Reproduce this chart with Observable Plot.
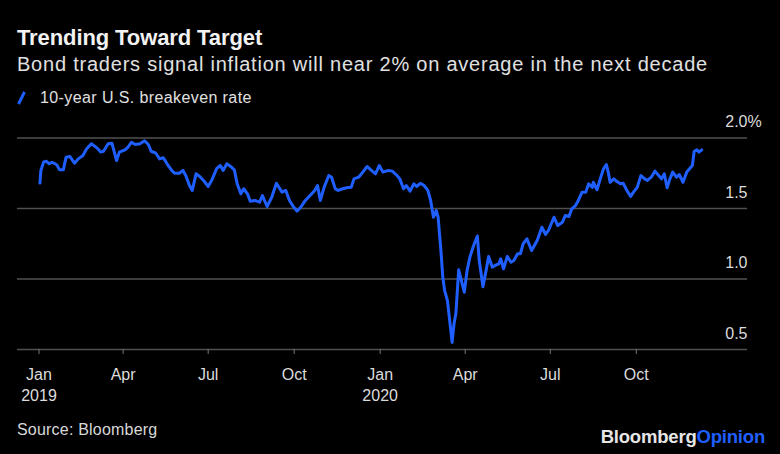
<!DOCTYPE html>
<html>
<head>
<meta charset="utf-8">
<script src="https://cdn.jsdelivr.net/npm/d3@7"></script>
<script src="https://cdn.jsdelivr.net/npm/@observablehq/plot@0.6"></script>
<style>
  html, body { margin: 0; padding: 0; background: #000; }
  body { width: 780px; height: 454px; position: relative; overflow: hidden;
         font-family: "Liberation Sans", Arial, sans-serif; color: #e0e0e0; }
  .abs { position: absolute; white-space: nowrap; }
  #title { left: 17px; top: 25px; font-size: 22px; font-weight: bold; color: #f2f2f2; letter-spacing: -0.1px; }
  #subtitle { left: 17px; top: 53px; font-size: 20px; color: #e0e0e0; letter-spacing: 0.78px; }
  #legend { left: 17px; top: 89px; font-size: 16px; color: #e0e0e0; display: flex; align-items: center; letter-spacing: 0.4px; }
  #legend svg { margin-right: 14px; }
  #chart { position: absolute; left: 0; top: 110px; }
  #source { left: 17px; top: 421px; font-size: 16px; color: #d8d8d8; letter-spacing: 0.2px; }
  #brand { right: 15px; top: 426px; font-size: 18.5px; font-weight: bold; color: #e6e6e6; letter-spacing: -0.2px; }
  #brand span { color: #1f5fff; }
</style>
</head>
<body>
<div id="title" class="abs">Trending Toward Target</div>
<div id="subtitle" class="abs">Bond traders signal inflation will near 2% on average in the next decade</div>
<div id="legend" class="abs"><svg width="9" height="14"><line x1="1.5" y1="13" x2="7.5" y2="1" stroke="#1f5fff" stroke-width="3"/></svg>10-year U.S. breakeven rate</div>
<div id="chart"></div>
<div id="source" class="abs">Source: Bloomberg</div>
<div id="brand" class="abs">Bloomberg<span>Opinion</span></div>
<script>
// 10-year U.S. breakeven rate (%)
const dates = [
  "2019-01-02","2019-01-03","2019-01-06","2019-01-09","2019-01-12","2019-01-15","2019-01-20","2019-01-23","2019-01-27","2019-01-30",
  "2019-02-03","2019-02-08","2019-02-12","2019-02-17","2019-02-21","2019-02-26","2019-03-04","2019-03-08","2019-03-11","2019-03-16",
  "2019-03-20","2019-03-25","2019-03-28","2019-04-03","2019-04-06","2019-04-10","2019-04-14","2019-04-19","2019-04-24","2019-04-28",
  "2019-05-01","2019-05-06","2019-05-10","2019-05-14","2019-05-18","2019-05-23","2019-05-26","2019-05-31","2019-06-04","2019-06-07",
  "2019-06-11","2019-06-14","2019-06-18","2019-06-22","2019-06-26","2019-07-01","2019-07-05","2019-07-10","2019-07-14","2019-07-17",
  "2019-07-21","2019-07-25","2019-07-29","2019-08-01","2019-08-05","2019-08-08","2019-08-12","2019-08-15","2019-08-20","2019-08-25",
  "2019-08-28","2019-09-02","2019-09-07","2019-09-12","2019-09-18","2019-09-22","2019-09-26","2019-09-30","2019-10-04","2019-10-08",
  "2019-10-13","2019-10-18","2019-10-23","2019-10-26","2019-10-29","2019-11-02","2019-11-07","2019-11-10","2019-11-14","2019-11-17",
  "2019-11-22","2019-11-26","2019-12-01","2019-12-04","2019-12-09","2019-12-12","2019-12-18","2019-12-22","2019-12-27","2019-12-31",
  "2020-01-04","2020-01-10","2020-01-14","2020-01-19","2020-01-22","2020-01-26","2020-01-29","2020-02-02","2020-02-06","2020-02-09",
  "2020-02-13","2020-02-17","2020-02-21","2020-02-24","2020-02-27","2020-03-01","2020-03-03","2020-03-06","2020-03-08","2020-03-10",
  "2020-03-13","2020-03-18","2020-03-20","2020-03-22","2020-03-25","2020-03-27","2020-03-31","2020-04-03","2020-04-06","2020-04-10",
  "2020-04-14","2020-04-16","2020-04-20","2020-04-24","2020-04-26","2020-04-30","2020-05-03","2020-05-07","2020-05-09","2020-05-12",
  "2020-05-16","2020-05-20","2020-05-23","2020-05-27","2020-05-30","2020-06-02","2020-06-06","2020-06-11","2020-06-17","2020-06-22",
  "2020-06-26","2020-06-29","2020-07-05","2020-07-09","2020-07-14","2020-07-17","2020-07-21","2020-07-24","2020-07-28","2020-07-31",
  "2020-08-04","2020-08-08","2020-08-11","2020-08-15","2020-08-16","2020-08-20","2020-08-24","2020-08-27","2020-08-30","2020-09-01",
  "2020-09-03","2020-09-07","2020-09-10","2020-09-14","2020-09-17","2020-09-21","2020-09-25","2020-09-28","2020-10-02","2020-10-06",
  "2020-10-10","2020-10-13","2020-10-17","2020-10-21","2020-10-25","2020-10-28","2020-10-31","2020-11-03","2020-11-06","2020-11-09",
  "2020-11-13","2020-11-16","2020-11-20","2020-11-24","2020-11-27","2020-11-30","2020-12-02","2020-12-05","2020-12-07","2020-12-10"
];
const values = [
  1.68,1.77,1.83,1.835,1.817,1.828,1.81,1.774,1.774,1.864,
  1.869,1.821,1.852,1.876,1.923,1.959,1.93,1.90,1.906,1.959,
  1.963,1.84,1.90,1.916,1.934,1.97,1.954,1.959,1.98,1.954,
  1.906,1.892,1.852,1.86,1.817,1.77,1.75,1.75,1.77,1.734,
  1.663,1.628,1.746,1.727,1.699,1.656,1.703,1.782,1.805,1.77,
  1.817,1.798,1.774,1.675,1.604,1.64,1.604,1.552,1.557,1.545,
  1.592,1.514,1.58,1.679,1.616,1.628,1.557,1.514,1.481,1.509,
  1.557,1.592,1.628,1.663,1.557,1.65,1.734,1.722,1.64,1.628,
  1.64,1.647,1.65,1.71,1.722,1.746,1.798,1.774,1.746,1.805,
  1.758,1.77,1.765,1.734,1.71,1.64,1.663,1.623,1.675,1.656,
  1.679,1.663,1.628,1.557,1.438,1.486,1.438,1.202,1.013,0.918,
  0.847,0.55,0.682,0.753,1.065,1.013,0.906,1.06,1.155,1.238,
  1.305,1.131,0.945,1.084,1.16,1.084,1.096,1.108,1.143,1.072,
  1.16,1.119,1.131,1.179,1.179,1.25,1.285,1.202,1.273,1.367,
  1.316,1.344,1.438,1.379,1.403,1.45,1.443,1.498,1.521,1.557,
  1.616,1.616,1.675,1.65,1.686,1.633,1.722,1.782,1.812,1.758,
  1.686,1.71,1.693,1.675,1.679,1.628,1.585,1.616,1.65,1.734,
  1.71,1.699,1.722,1.765,1.734,1.71,1.746,1.647,1.71,1.758,
  1.722,1.741,1.686,1.758,1.782,1.805,1.906,1.916,1.90,1.916
];
const xTickDates = ["2019-01-01","2019-04-01","2019-07-01","2019-10-01","2020-01-01","2020-04-01","2020-07-01","2020-10-01"];
const xTickLabels = ["Jan\n2019","Apr","Jul","Oct","Jan\n2020","Apr","Jul","Oct"];
const yTicks = [0.5, 1.0, 1.5, 2.0];
const xDomain = ["2018-12-09","2021-01-28"];

const data = dates.map((d, i) => ({date: new Date(d), value: values[i]}));
const tickDates = xTickDates.map(d => new Date(d));
const labelMap = new Map(tickDates.map((d, i) => [+d, xTickLabels[i]]));
const xDom = xDomain.map(d => new Date(d));

const chart = Plot.plot({
  width: 780,
  height: 300,
  marginLeft: 17,
  marginRight: 33,
  marginTop: 27.5,
  marginBottom: 61,
  style: {background: "transparent", color: "#dcdcdc", fontFamily: "'Liberation Sans', Arial, sans-serif", fontSize: "16px"},
  x: {type: "utc", domain: xDom},
  y: {domain: [0.5, 2.0]},
  marks: [
    Plot.ruleY(yTicks, {stroke: "#505050", strokeWidth: 1.3}),
    Plot.axisX({ticks: tickDates, tickFormat: d => labelMap.get(+d), tickSize: 5, tickPadding: 10, stroke: "#777", fill: "#dcdcdc", lineHeight: 1.35, label: null, fontSize: 16}),
    Plot.axisY({anchor: "right", ticks: yTicks, tickSize: 0, tickPadding: 0, textAnchor: "end", dy: -16, tickFormat: d => d.toFixed(1), label: null, fill: "#dcdcdc", fontSize: 16}),
    Plot.text(["%"], {x: () => xDom[1], y: () => 2.0, text: d => d, textAnchor: "start", dy: -16, fill: "#dcdcdc", fontSize: 16}),
    Plot.lineY(data, {x: "date", y: "value", stroke: "#1f5fff", strokeWidth: 3, strokeLinejoin: "round", curve: "linear"})
  ]
});
document.getElementById("chart").appendChild(chart);
</script>
</body>
</html>
